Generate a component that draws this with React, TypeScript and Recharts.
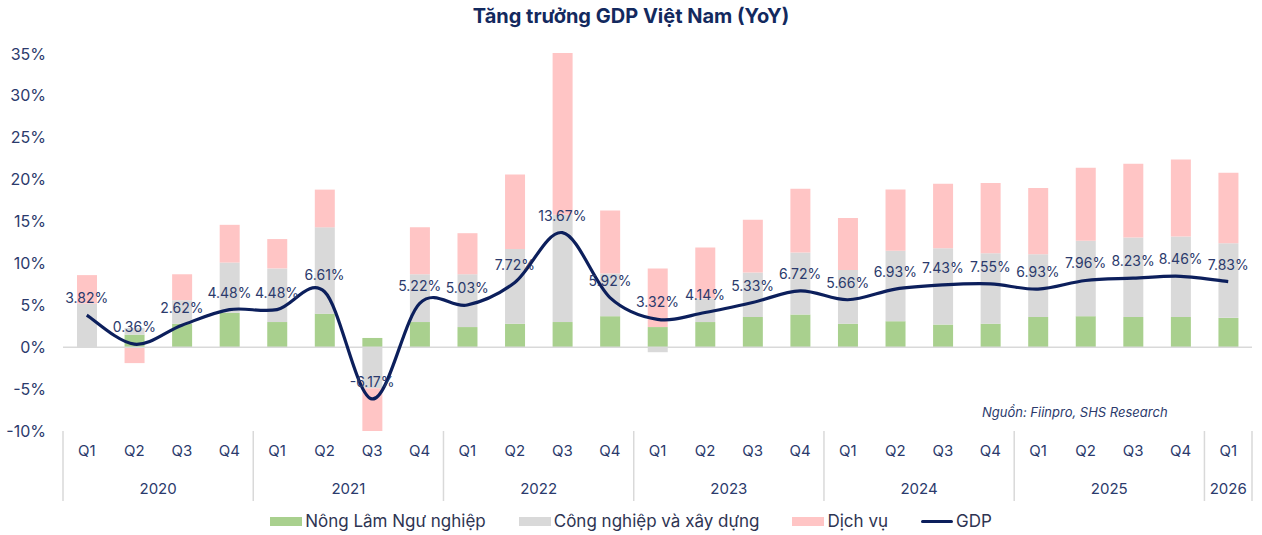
import React from "react";
import {
  Bar,
  ComposedChart,
  LabelList,
  Line,
  ReferenceLine,
  XAxis,
  YAxis,
} from "recharts";

const quarters = [
  "Q1", "Q2", "Q3", "Q4",
  "Q1", "Q2", "Q3", "Q4",
  "Q1", "Q2", "Q3", "Q4",
  "Q1", "Q2", "Q3", "Q4",
  "Q1", "Q2", "Q3", "Q4",
  "Q1", "Q2", "Q3", "Q4",
  "Q1",
];
const years = [
  "2020", "2020", "2020", "2020",
  "2021", "2021", "2021", "2021",
  "2022", "2022", "2022", "2022",
  "2023", "2023", "2023", "2023",
  "2024", "2024", "2024", "2024",
  "2025", "2025", "2025", "2025",
  "2026",
];
// bar segments (% points)
const agri = [0, 1.5, 2.8, 4.1, 3.0, 4.0, 1.1, 3.0, 2.4, 2.8, 3.0, 3.7, 2.4, 3.0, 3.6, 3.9, 2.8, 3.1, 2.7, 2.8, 3.6, 3.7, 3.6, 3.6, 3.5];
const industry = [5.2, 0.8, 2.8, 6.0, 6.4, 10.3, -4.9, 5.7, 6.3, 8.9, 12.8, 5.1, -0.6, 2.8, 5.3, 7.4, 6.4, 8.4, 9.1, 8.4, 7.5, 9.0, 9.5, 9.6, 8.9];
const services = [3.4, -1.9, 3.1, 4.5, 3.5, 4.5, -5.1, 5.6, 4.9, 8.9, 19.3, 7.5, 7.0, 6.1, 6.3, 7.6, 6.2, 7.3, 7.7, 8.4, 7.9, 8.7, 8.8, 9.2, 8.4];
const gdp = [3.82, 0.36, 2.62, 4.48, 4.48, 6.61, -6.17, 5.22, 5.03, 7.72, 13.67, 5.92, 3.32, 4.14, 5.33, 6.72, 5.66, 6.93, 7.43, 7.55, 6.93, 7.96, 8.23, 8.46, 7.83];
const yTicks = [-10, -5, 0, 5, 10, 15, 20, 25, 30, 35];

const data = quarters.map((q, i) => ({
  key: `${years[i]}-${q}`,
  q,
  year: years[i],
  agri: agri[i],
  industry: industry[i],
  services: services[i],
  gdp: gdp[i],
}));

const FONT = "Inter, 'Noto Sans', sans-serif";
const NAVY = "#2b3a6c";
const W = 1262;
const H = 535;
const M = { top: 53, right: 10, left: 0, bottom: 0 };
const Y_AXIS_W = 63;
const X_AXIS_H = 104;

const GREEN = "#a9d08e";
const GREY = "#d9d9d9";
const PINK = "#ffc5c5";
const LINE = "#0c1f5c";

// Excel-like smoothed line (Catmull-Rom as cubic bezier)
function smoothCurve(context: any) {
  let pts: number[][] = [];
  return {
    areaStart() {},
    areaEnd() {},
    lineStart() {
      pts = [];
    },
    point(x: number, y: number) {
      pts.push([+x, +y]);
    },
    lineEnd() {
      if (!pts.length) return;
      context.moveTo(pts[0][0], pts[0][1]);
      for (let i = 0; i < pts.length - 1; i++) {
        const p0 = pts[i - 1] || pts[i];
        const p1 = pts[i];
        const p2 = pts[i + 1];
        const p3 = pts[i + 2] || p2;
        context.bezierCurveTo(
          p1[0] + (p2[0] - p0[0]) / 6,
          p1[1] + (p2[1] - p0[1]) / 6,
          p2[0] - (p3[0] - p1[0]) / 6,
          p2[1] - (p3[1] - p1[1]) / 6,
          p2[0],
          p2[1]
        );
      }
    },
  };
}

function QuarterTick(props: any) {
  const { x, y, payload } = props;
  const i = payload.index;
  const half =
    payload.offset || (W - Y_AXIS_W - M.right) / data.length / 2;
  const yr = years[i];
  const first = years.indexOf(yr);
  const count = years.filter((v) => v === yr).length;
  const isFirst = i === first;
  const isLast = i === data.length - 1;
  return (
    <g>
      <text
        x={x}
        y={y + 21}
        textAnchor="middle"
        dominantBaseline="middle"
        fill={NAVY}
        fontSize={15}
        fontFamily={FONT}
      >
        {quarters[i]}
      </text>
      {isFirst && (
        <>
          <line x1={x - half} x2={x - half} y1={y} y2={y + 70} stroke={GREY} strokeWidth={1.5} />
          <text
            x={x + (count - 1) * half}
            y={y + 59}
            textAnchor="middle"
            dominantBaseline="middle"
            fill={NAVY}
            fontSize={15}
            fontFamily={FONT}
          >
            {yr}
          </text>
        </>
      )}
      {isLast && (
        <line x1={x + half} x2={x + half} y1={y} y2={y + 70} stroke={GREY} strokeWidth={1.5} />
      )}
    </g>
  );
}

const legendItems = [
  { name: "Nông Lâm Ngư nghiệp", color: GREEN, line: false },
  { name: "Công nghiệp và xây dựng", color: GREY, line: false },
  { name: "Dịch vụ", color: PINK, line: false },
  { name: "GDP", color: LINE, line: true },
];

export default function App() {
  return (
    <div style={{ position: "relative", width: W, height: H, fontFamily: FONT, background: "#fff" }}>
      <style>{`body{margin:0}`}</style>
      <div
        style={{
          position: "absolute",
          top: 4,
          left: 0,
          width: W,
          textAlign: "center",
          fontSize: 20,
          fontWeight: 700,
          color: "#13295e",
        }}
      >
        Tăng trưởng GDP Việt Nam (YoY)
      </div>
      <ComposedChart
        width={W}
        height={H}
        data={data}
        margin={M}
        stackOffset="sign"
        barSize={20}
      >
        <XAxis
          dataKey="key"
          height={X_AXIS_H}
          axisLine={false}
          tickLine={false}
          tickSize={0}
          tickMargin={0}
          interval={0}
          tick={<QuarterTick />}
        />
        <YAxis
          width={Y_AXIS_W}
          domain={[-10, 35]}
          ticks={yTicks}
          axisLine={false}
          tickLine={false}
          tickSize={0}
          tickMargin={17}
          tick={{ fill: NAVY, fontSize: 16, fontFamily: FONT }}
          tickFormatter={(v: number) => `${v}%`}
        />
        <ReferenceLine y={0} stroke={GREY} strokeWidth={1.5} />
        <Bar dataKey="agri" stackId="s" fill={GREEN} isAnimationActive={false} />
        <Bar dataKey="industry" stackId="s" fill={GREY} isAnimationActive={false} />
        <Bar dataKey="services" stackId="s" fill={PINK} isAnimationActive={false} />
        <Line
          dataKey="gdp"
          type={smoothCurve as any}
          stroke={LINE}
          strokeWidth={3.2}
          dot={false}
          isAnimationActive={false}
        >
          <LabelList
            dataKey="gdp"
            position="top"
            offset={12}
            fill={NAVY}
            fontSize={14}
            fontFamily={FONT}
            formatter={(v: any) => `${Number(v).toFixed(2)}%`}
          />
        </Line>
      </ComposedChart>
      <div
        style={{
          position: "absolute",
          top: 404,
          left: 982,
          fontSize: 13,
          fontStyle: "italic",
          color: NAVY,
        }}
      >
        Nguồn: Fiinpro, SHS Research
      </div>
      <div
        style={{
          position: "absolute",
          top: 511,
          left: 0,
          width: W,
          display: "flex",
          justifyContent: "center",
          gap: 33,
          fontSize: 17,
          color: "#2e3452",
          paddingLeft: 0,
          boxSizing: "border-box",
        }}
      >
        {legendItems.map((it) => (
          <div key={it.name} style={{ display: "flex", alignItems: "center", gap: 3 }}>
            <div
              style={{
                width: 32,
                height: it.line ? 3 : 9,
                background: it.color,
                borderRadius: it.line ? 2 : 0,
              }}
            />
            <span>{it.name}</span>
          </div>
        ))}
      </div>
    </div>
  );
}
